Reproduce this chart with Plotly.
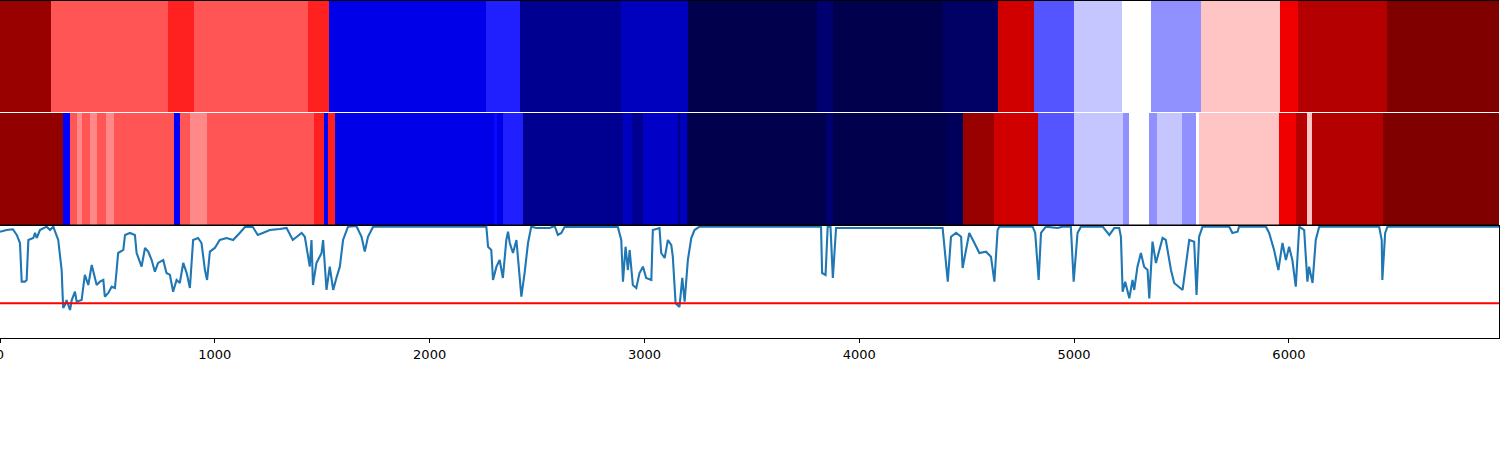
import plotly.graph_objects as go

# ---- top band: segment edges (data units) and values ----
top_edges = [0, 237, 782, 903, 1433, 1531, 2261, 2419, 2889, 3205, 3801, 3880,
             4392, 4648, 4815, 5001, 5224, 5359, 5592, 5960, 6043, 6457, 6978]
top_vals = [0.95, 0.667, 0.719, 0.667, 0.719, 0.218, 0.281, 0.095, 0.161, 0.0, 0.05,
            0.0, 0.035, 0.842, 0.333, 0.443, 0.5, 0.391, 0.557, 0.78, 0.897, 1.0]

# ---- middle band: segment edges and values ----
mid_edges = [0, 293, 326, 358, 381, 419, 451, 493, 530, 809, 837, 884, 963, 1461,
             1507, 1526, 1558, 2298, 2312, 2340, 2433, 2898, 2940, 2991, 3154, 3164,
             3196, 3205, 3843, 3880, 4410, 4485, 4629, 4834, 5001, 5229, 5257, 5350,
             5387, 5504, 5569, 5583, 5955, 6034, 6085, 6108, 6439, 6978]
mid_vals = [0.962, 0.25, 0.667, 0.617, 0.667, 0.617, 0.667, 0.617, 0.667, 0.25,
            0.667, 0.617, 0.667, 0.719, 0.25, 0.719, 0.218, 0.26, 0.218, 0.281,
            0.095, 0.161, 0.095, 0.17, 0.07, 0.161, 0.04, 0.0, 0.05, 0.0, 0.02,
            0.95, 0.842, 0.333, 0.443, 0.391, 0.5, 0.391, 0.443, 0.391, 0.5, 0.557,
            0.78, 0.897, 0.557, 0.897, 1.0]

# ---- bottom line series ----
line_x = [0, 31, 60, 78, 93, 101, 116, 124, 132, 155, 163, 171, 186, 217, 233, 248,
          271, 287, 294, 302, 310, 326, 334, 349, 357, 380, 395, 411, 427, 442, 450,
          465, 481, 488, 504, 520, 535, 543, 550, 574, 582, 605, 628, 636, 659, 675,
          690, 706, 721, 736, 760, 775, 791, 806, 822, 837, 853, 869, 884, 899, 922,
          938, 954, 964, 977, 1000, 1023, 1055, 1085, 1116, 1140, 1177, 1200, 1223,
          1256, 1303, 1334, 1363, 1380, 1404, 1419, 1427, 1442, 1450, 1457, 1473,
          1497, 1504, 1520, 1535, 1551, 1566, 1582, 1597, 1620, 1659, 1683, 1698,
          1713, 1737, 2264, 2272, 2287, 2295, 2311, 2326, 2341, 2357, 2365, 2373,
          2388, 2404, 2411, 2427, 2442, 2458, 2473, 2497, 2559, 2582, 2597, 2613,
          2628, 2876, 2892, 2900, 2912, 2923, 2931, 2946, 2962, 2977, 2993, 3008,
          3032, 3039, 3070, 3078, 3094, 3109, 3125, 3132, 3145, 3163, 3176, 3187,
          3202, 3218, 3233, 3256, 3822, 3827, 3843, 3853, 3866, 3877, 3892, 4388,
          4412, 4427, 4451, 4474, 4481, 4512, 4536, 4559, 4590, 4613, 4629, 4644,
          4652, 4807, 4819, 4835, 4846, 4869, 4923, 4946, 4985, 4998, 5016, 5032,
          5133, 5164, 5187, 5210, 5218, 5226, 5238, 5249, 5257, 5272, 5280, 5295,
          5311, 5326, 5342, 5350, 5365, 5381, 5396, 5412, 5427, 5451, 5466, 5489,
          5505, 5536, 5559, 5570, 5582, 5598, 5722, 5737, 5761, 5768, 5893, 5908,
          5931, 5951, 5970, 5986, 6001, 6016, 6032, 6048, 6071, 6086, 6094, 6110,
          6125, 6141, 6420, 6432, 6435, 6448, 6459, 6978]
line_y = [0.949, 0.964, 0.971, 0.92, 0.848, 0.503, 0.503, 0.518, 0.875, 0.893, 0.938,
          0.893, 0.964, 0.994, 0.964, 0.994, 0.875, 0.607, 0.268, 0.295, 0.339, 0.25,
          0.339, 0.413, 0.324, 0.339, 0.563, 0.473, 0.652, 0.536, 0.473, 0.503, 0.518,
          0.369, 0.402, 0.458, 0.446, 0.607, 0.759, 0.786, 0.92, 0.938, 0.92, 0.759,
          0.637, 0.804, 0.771, 0.696, 0.592, 0.67, 0.696, 0.58, 0.563, 0.413, 0.518,
          0.491, 0.67, 0.58, 0.446, 0.875, 0.893, 0.848, 0.607, 0.518, 0.771, 0.804,
          0.875, 0.893, 0.875, 0.938, 0.991, 0.991, 0.92, 0.938, 0.964, 0.973, 0.982,
          0.875, 0.904, 0.938, 0.904, 0.815, 0.637, 0.875, 0.473, 0.67, 0.759, 0.875,
          0.429, 0.637, 0.429, 0.536, 0.637, 0.875, 0.994, 1.0, 0.904, 0.771, 0.904,
          0.994, 0.994, 0.815, 0.786, 0.518, 0.637, 0.696, 0.536, 0.875, 0.949, 0.848,
          0.759, 0.875, 0.726, 0.369, 0.58, 0.848, 0.994, 0.982, 0.982, 1.0, 0.92,
          0.938, 0.991, 0.991, 0.875, 0.503, 0.815, 0.607, 0.786, 0.473, 0.446, 0.58,
          0.637, 0.536, 0.518, 0.964, 0.982, 0.759, 0.714, 0.875, 0.83, 0.726, 0.31,
          0.277, 0.536, 0.324, 0.696, 0.893, 0.964, 0.994, 0.994, 0.58, 0.563, 0.994,
          0.994, 0.536, 0.982, 0.982, 0.503, 0.904, 0.938, 0.904, 0.625, 0.938, 0.848,
          0.759, 0.771, 0.726, 0.503, 0.964, 0.994, 0.994, 0.938, 0.518, 0.938, 0.994,
          0.982, 0.994, 0.994, 0.503, 0.938, 0.994, 0.994, 0.92, 0.982, 0.982, 0.904,
          0.413, 0.503, 0.429, 0.354, 0.518, 0.429, 0.637, 0.759, 0.637, 0.607, 0.354,
          0.86, 0.67, 0.786, 0.893, 0.875, 0.607, 0.491, 0.458, 0.429, 0.875, 0.86,
          0.384, 0.904, 0.994, 0.994, 0.938, 0.949, 0.994, 0.994, 0.938, 0.786, 0.607,
          0.848, 0.696, 0.815, 0.696, 0.458, 0.994, 0.964, 0.503, 0.637, 0.491, 0.875,
          0.994, 0.994, 0.875, 0.518, 0.938, 0.994, 0.994]
threshold = 0.31
x_max = 6978
tick_vals = [0, 1000, 2000, 3000, 4000, 5000, 6000]
tick_text = ["0", "1000", "2000", "3000", "4000", "5000", "6000"]

seismic = [[0.0, "rgb(0,0,76)"], [0.25, "rgb(0,0,255)"], [0.5, "rgb(255,255,255)"],
           [0.75, "rgb(255,0,0)"], [1.0, "rgb(128,0,0)"]]

fig = go.Figure()
fig.add_trace(go.Heatmap(x=top_edges, y=[0, 1], z=[top_vals], colorscale=seismic,
                         zmin=0, zmax=1, showscale=False, xaxis="x", yaxis="y"))
fig.add_trace(go.Heatmap(x=mid_edges, y=[0, 1], z=[mid_vals], colorscale=seismic,
                         zmin=0, zmax=1, showscale=False, xaxis="x2", yaxis="y2"))
fig.add_trace(go.Scatter(x=line_x, y=line_y, mode="lines",
                         line=dict(color="#1f77b4", width=2.1), xaxis="x3", yaxis="y3",
                         showlegend=False))
fig.add_trace(go.Scatter(x=[0, x_max], y=[threshold, threshold], mode="lines",
                         line=dict(color="red", width=2.0), xaxis="x3", yaxis="y3",
                         showlegend=False))

h = 338.0
common_x = dict(range=[0, x_max], showgrid=False, zeroline=False)
fig.update_layout(
    width=1500, height=450,
    margin=dict(l=0, r=1, t=0, b=112, autoexpand=False),
    plot_bgcolor="white", paper_bgcolor="white",
    showlegend=False,
    xaxis=dict(**common_x, anchor="y", showticklabels=False, ticks=""),
    yaxis=dict(domain=[(h - 112) / h, 1], range=[0, 1], showticklabels=False,
               showgrid=False, zeroline=False, ticks=""),
    xaxis2=dict(**common_x, anchor="y2", showticklabels=False, ticks=""),
    yaxis2=dict(domain=[(h - 225) / h, (h - 113) / h], range=[0, 1],
                showticklabels=False, showgrid=False, zeroline=False, ticks=""),
    xaxis3=dict(**common_x, anchor="y3", tickvals=tick_vals, ticktext=tick_text,
                ticks="outside", ticklen=4, tickcolor="black", tickwidth=1,
                showline=True, linecolor="black", linewidth=1, mirror=True,
                ticklabeloverflow="allow", automargin=False,
                tickfont=dict(family="DejaVu Sans", size=13, color="black")),
    yaxis3=dict(domain=[0, (h - 226) / h], range=[0, 1], showticklabels=False,
                showgrid=False, zeroline=False, ticks="", showline=True,
                linecolor="black", linewidth=1, mirror=True),
)
fig.add_shape(type="line", xref="paper", yref="paper", x0=0, x1=1, y0=1, y1=1,
              line=dict(color="black", width=2))
fig.add_shape(type="line", xref="paper", yref="paper", x0=0, x1=1,
              y0=(h - 225) / h, y1=(h - 225) / h, line=dict(color="black", width=1))
fig.write_html("out.html", config={"displayModeBar": False},
               post_script="document.body.style.margin='0px';"
                           "document.body.style.overflow='hidden';")
